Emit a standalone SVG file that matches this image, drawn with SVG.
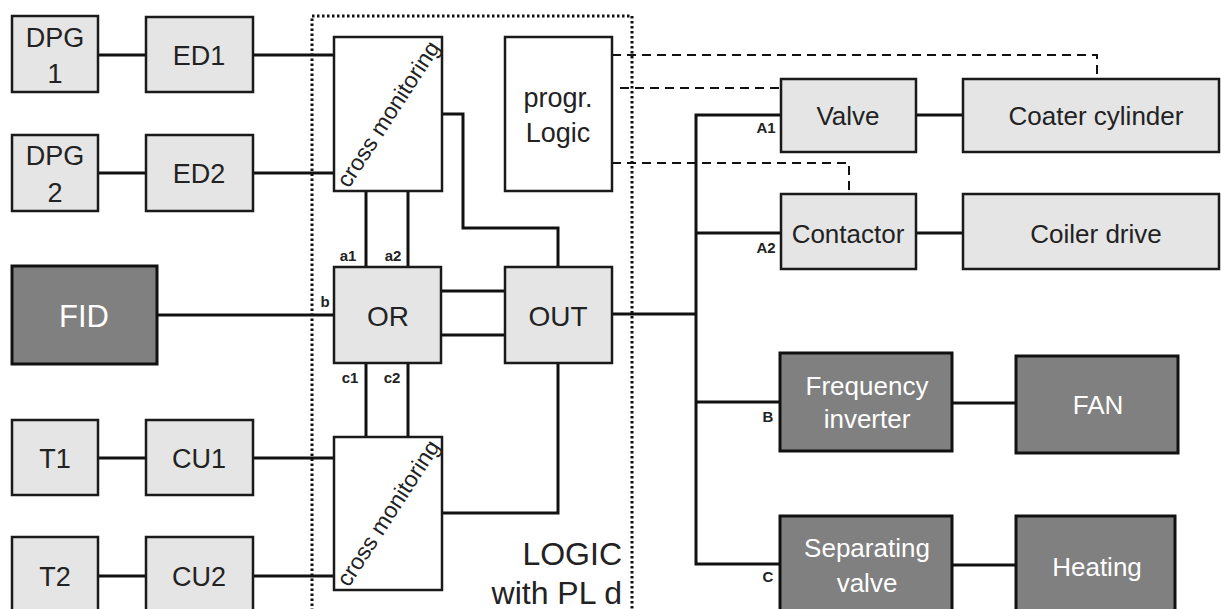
<svg xmlns="http://www.w3.org/2000/svg" width="1221" height="609" viewBox="0 0 1221 609">
<style>
.lt{fill:#e5e5e5;stroke:#1a1a1a;stroke-width:2.5}
.dk{fill:#808080;stroke:#111;stroke-width:3}
.wh{fill:#fff;stroke:#1a1a1a;stroke-width:2.5}
text{font-family:"Liberation Sans",Arial,sans-serif;text-anchor:middle}
.t{font-size:27px;fill:#222}
.tr{font-size:26px;fill:#222}
.tw{font-size:26px;fill:#fff}
.cm{font-size:23px;fill:#222}
.lb{font-size:15px;font-weight:bold;fill:#222}
.ln{fill:none;stroke:#111;stroke-width:3}
.dash{fill:none;stroke:#111;stroke-width:2;stroke-dasharray:9 6}
</style>
<rect width="1221" height="609" fill="#fff"/>
<g id="logic-frame">
<rect x="312" y="16" width="320" height="610" fill="none" stroke="#111" stroke-width="3" stroke-dasharray="2.5 2.5"/>
<text x="622" y="565" style="text-anchor:end;font-size:32px;fill:#222">LOGIC</text>
<text x="622" y="604" style="text-anchor:end;font-size:32px;fill:#222">with PL d</text>
</g>
<g id="connectors">
<path class="ln" d="M98 55H146M253 55H334M98 173H146M253 173H334M157 315H334M98 458H146M253 458H334M98 576H146M253 576H334"/>
<path class="ln" d="M441 114H463V228H558V267M366 191V267M408 191V267M366 363V437M408 363V437M441 291H505M441 335H505M558 363V513H441"/>
<path class="ln" d="M612 314H696" stroke-width="4"/>
<path class="ln" d="M781 115H696V564H780M696 233H781M696 402H780M916 115H963M916 233H963M952 565H1016"/>
<path class="ln" d="M952 403H1016" stroke-width="2.5"/>
<path class="dash" d="M612 55H1097V79M620 88H781M612 163H849V194"/>
</g>
<g id="labels">
<text class="lb" x="348" y="261">a1</text>
<text class="lb" x="393" y="261">a2</text>
<text class="lb" x="325" y="307">b</text>
<text class="lb" x="350" y="383">c1</text>
<text class="lb" x="392" y="383">c2</text>
<text class="lb" x="766" y="133">A1</text>
<text class="lb" x="766" y="253">A2</text>
<text class="lb" x="768" y="422">B</text>
<text class="lb" x="768" y="582">C</text>
</g>
<g id="dpg1"><rect class="lt" x="12" y="16" width="86" height="76"/><text class="t" x="55" y="47">DPG</text><text class="t" x="55" y="83">1</text></g>
<g id="ed1"><rect class="lt" x="146" y="17" width="107" height="75"/><text class="t" x="199" y="65">ED1</text></g>
<g id="dpg2"><rect class="lt" x="12" y="135" width="86" height="76"/><text class="t" x="55" y="165">DPG</text><text class="t" x="55" y="202">2</text></g>
<g id="ed2"><rect class="lt" x="146" y="135" width="107" height="76"/><text class="t" x="199" y="183">ED2</text></g>
<g id="fid"><rect class="dk" x="12" y="266" width="145" height="98"/><text class="tw" x="84" y="327" style="font-size:31px">FID</text></g>
<g id="t1"><rect class="lt" x="12" y="420" width="86" height="75"/><text class="t" x="55" y="468">T1</text></g>
<g id="cu1"><rect class="lt" x="146" y="420" width="107" height="75"/><text class="t" x="199" y="468">CU1</text></g>
<g id="t2"><rect class="lt" x="12" y="537" width="86" height="80"/><text class="t" x="55" y="586">T2</text></g>
<g id="cu2"><rect class="lt" x="146" y="537" width="107" height="80"/><text class="t" x="199" y="586">CU2</text></g>
<g id="cross-top"><rect class="wh" x="334" y="37" width="108" height="154"/><text class="cm" x="388" y="114" transform="rotate(-57 388 114)" dy="8">cross monitoring</text></g>
<g id="progr-logic"><rect class="wh" x="505" y="37" width="107" height="154"/><text class="t" x="558" y="107">progr.</text><text class="t" x="558" y="142">Logic</text></g>
<g id="or"><rect class="lt" x="334" y="267" width="107" height="96"/><text class="t" x="388" y="326" style="font-size:28px">OR</text></g>
<g id="out"><rect class="lt" x="505" y="267" width="107" height="96"/><text class="t" x="558" y="326" style="font-size:28px">OUT</text></g>
<g id="cross-bottom"><rect class="wh" x="334" y="437" width="108" height="153"/><text class="cm" x="388" y="513" transform="rotate(-57 388 513)" dy="8">cross monitoring</text></g>
<g id="valve"><rect class="lt" x="781" y="79" width="135" height="73"/><text class="tr" x="848" y="125">Valve</text></g>
<g id="coater"><rect class="lt" x="963" y="79" width="256" height="73"/><text class="tr" x="1096" y="125">Coater  cylinder</text></g>
<g id="contactor"><rect class="lt" x="781" y="194" width="135" height="75"/><text class="tr" x="848" y="243">Contactor</text></g>
<g id="coiler"><rect class="lt" x="963" y="194" width="256" height="75"/><text class="tr" x="1096" y="243">Coiler  drive</text></g>
<g id="freq"><rect class="dk" x="780" y="353" width="172" height="98"/><text class="tw" x="867" y="395">Frequency</text><text class="tw" x="867" y="428">inverter</text></g>
<g id="fan"><rect class="dk" x="1016" y="356" width="162" height="97"/><text class="tw" x="1098" y="414">FAN</text></g>
<g id="sep"><rect class="dk" x="780" y="516" width="172" height="110"/><text class="tw" x="867" y="557">Separating</text><text class="tw" x="867" y="592">valve</text></g>
<g id="heating"><rect class="dk" x="1016" y="516" width="159" height="110"/><text class="tw" x="1097" y="576">Heating</text></g>
</svg>
